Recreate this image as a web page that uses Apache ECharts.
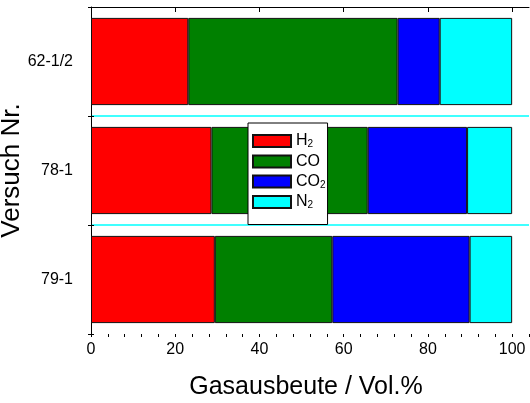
<!DOCTYPE html>
<html>
<head>
<meta charset="utf-8">
<script src="https://cdn.jsdelivr.net/npm/echarts@6/dist/echarts.min.js"></script>
<style>html,body{margin:0;padding:0;background:#fff;}#c{width:530px;height:403px;}</style>
</head>
<body>
<div id="c"></div>
<script>
// Data (top-to-bottom order)
var categories = ['62-1/2', '78-1', '79-1'];
var seriesNames = ['H2', 'CO', 'CO2', 'N2'];
var h2  = [23.1, 28.6, 29.4];
var co  = [49.7, 37.1, 27.9];
var co2 = [10.0, 23.6, 32.6];
var n2  = [17.2, 10.7, 10.1];
var colors = ['#ff0000', '#008000', '#0000ff', '#00ffff'];
var FONT = 'Liberation Sans, Arial, sans-serif';

var chart = echarts.init(document.getElementById('c'), null, {renderer: 'canvas'});
var values = [h2, co, co2, n2];
var legendLabels = {'H2': '{b|H}{s|2}', 'CO': '{b|CO}', 'CO2': '{b|CO}{s|2}', 'N2': '{b|N}{s|2}'};

var series = seriesNames.map(function (name, i) {
  return {
    name: name, type: 'bar', stack: 'total',
    xAxisIndex: 0, yAxisIndex: 0,
    barWidth: '80%',
    data: values[i],
    itemStyle: {color: colors[i], borderColor: '#111', borderWidth: 1},
    emphasis: {disabled: true}
  };
});

chart.setOption({
  animation: false,
  textStyle: {fontFamily: FONT},
  grid: {left: 91, right: 1, top: 7, bottom: 69, containLabel: false, outerBoundsMode: 'none'},
  legend: {
    orient: 'vertical', left: 248, top: 123,
    padding: [10, 2, 14, 4],
    backgroundColor: '#fff', borderColor: '#000', borderWidth: 1,
    itemWidth: 38, itemHeight: 12, itemGap: 4,
    icon: 'rect',
    selectedMode: false,
    data: seriesNames,
    formatter: function (n) { return legendLabels[n]; },
    textStyle: {
      color: '#000',
      rich: {
        b: {fontSize: 16, fontFamily: FONT, color: '#000', lineHeight: 17},
        s: {fontSize: 10, fontFamily: FONT, color: '#000', verticalAlign: 'bottom', lineHeight: 10}
      }
    }
  },
  xAxis: [{
    type: 'value', min: 0, max: 104, interval: 20,
    position: 'bottom',
    name: 'Gasausbeute / Vol.%', nameLocation: 'middle', nameGap: 41,
    nameTextStyle: {fontSize: 25, color: '#000', fontFamily: FONT, padding: [0, 8, 0, 0]},
    axisLine: {show: true, lineStyle: {color: '#000', width: 1}},
    axisTick: {show: true, inside: false, length: 5, lineStyle: {color: '#000'}},
    axisLabel: {fontSize: 16, color: '#000', margin: 8, showMaxLabel: false, fontFamily: FONT},
    splitLine: {show: false}
  }, {
    type: 'value', min: 0, max: 104, interval: 4,
    position: 'bottom',
    axisLine: {show: false},
    axisTick: {show: true, inside: false, length: 3, lineStyle: {color: '#000'}},
    axisLabel: {show: false},
    splitLine: {show: false}
  }],
  yAxis: [{
    type: 'category', data: categories, inverse: true, position: 'left',
    name: 'Versuch Nr.', nameLocation: 'middle', nameGap: 66, nameMoveOverlap: false,
    nameTextStyle: {fontSize: 26, color: '#000', fontFamily: FONT},
    axisLine: {show: true, lineStyle: {color: '#000', width: 1}},
    axisTick: {show: true, inside: false, length: 3, lineStyle: {color: '#000'}},
    axisLabel: {fontSize: 16, color: '#000', margin: 18, fontFamily: FONT},
    splitLine: {show: false}
  }, {
    type: 'category', data: categories, inverse: true, position: 'left',
    axisLine: {show: false},
    axisTick: {show: true, inside: true, length: 3, lineStyle: {color: '#000'}},
    axisLabel: {show: false},
    splitLine: {show: false}
  }, {
    type: 'category', data: categories, inverse: true, position: 'left',
    axisLine: {show: false},
    axisTick: {show: true, inside: true, length: 2, alignWithLabel: true, lineStyle: {color: '#000'}},
    axisLabel: {show: false},
    splitLine: {show: false}
  }, {
    // separator lines between categories
    type: 'value', min: 0, max: categories.length, interval: 1, inverse: true, position: 'left',
    axisLine: {show: false}, axisTick: {show: false}, axisLabel: {show: false},
    splitLine: {show: true, showMinLine: false, showMaxLine: false,
      lineStyle: {color: '#00ffff', width: 1.5, type: 'solid'}}
  }],
  series: series
});
</script>
</body>
</html>
